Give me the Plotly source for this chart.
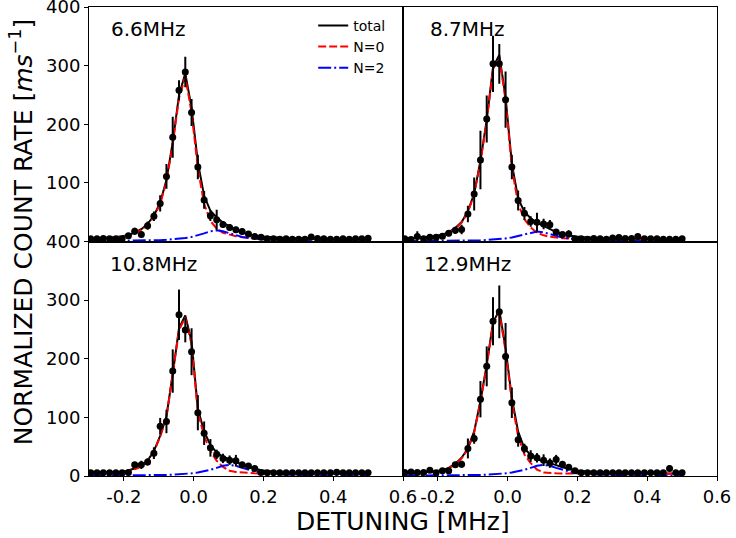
import plotly.graph_objects as go
from plotly.subplots import make_subplots

# detuning grid (MHz)
detuning = [-0.295, -0.277, -0.259, -0.241, -0.223, -0.205, -0.187, -0.169, -0.150, -0.132,
            -0.114, -0.096, -0.078, -0.060, -0.042, -0.024, -0.006, 0.012, 0.030, 0.048,
            0.066, 0.084, 0.103, 0.121, 0.139, 0.157, 0.175, 0.193, 0.211, 0.229,
            0.247, 0.265, 0.283, 0.301, 0.319, 0.337, 0.355, 0.373, 0.392, 0.410,
            0.428, 0.446, 0.464, 0.482, 0.500]

panel_labels = ["6.6MHz", "8.7MHz", "10.8MHz", "12.9MHz"]

# ---- 6.6 MHz ----
data_66 = [4.5, 4.5, 5, 4.5, 4.5, 4.5, 10, 17.6, 12, 27, 43, 65, 111, 178, 258, 289, 220, 127, 71, 44,
           37, 29, 24, 20, 17, 13, 8.5, 7.4, 4.5, 4.5, 4, 4.5, 4, 4, 4, 7.5, 5, 4.5, 4, 4,
           4.5, 4, 4.5, 4.5, 5.5]
err_66 = [2.5, 2.5, 2.5, 2.5, 2.5, 2.5, 4, 6, 5, 7, 8, 14, 21, 35, 17, 26, 23, 21, 15, 9,
          17, 6, 6, 5, 5, 4, 4, 3, 2.5, 2.5, 2.5, 2.5, 2.5, 2.5, 2.5, 3, 2.5, 2.5, 2.5, 2.5,
          2.5, 2.5, 2.5, 2.5, 2.5]
n0_66 = [4.3, 4.6, 5.2, 5.8, 6.7, 8.1, 10, 13.8, 19.6, 28.4, 42, 64, 102, 166, 245, 281, 220, 125, 64, 35,
         22, 15, 11.5, 9, 7.3, 6.2, 5.5, 5, 4.7, 4.5, 4.3, 4.2, 4.1, 4, 3.9, 3.9, 3.9, 3.8, 3.8, 3.8,
         3.8, 3.7, 3.7, 3.7, 3.7]
n2_66 = [0.5, 0.57, 0.63, 0.7, 0.78, 0.9, 1.0, 1.16, 1.35, 1.6, 1.9, 2.3, 2.8, 3.5, 4.5, 5.8, 7.8, 10.5, 13.9, 17.4,
         19, 17.4, 13.9, 10.5, 7.8, 5.8, 4.5, 3.5, 2.8, 2.3, 1.9, 1.6, 1.35, 1.16, 1.0, 0.9, 0.78, 0.7, 0.63, 0.57,
         0.5, 0.47, 0.43, 0.4, 0.37]
tot_66 = [4.8, 5.2, 5.8, 6.5, 7.5, 9.0, 11.0, 15.0, 21.0, 30.0, 43.9, 66.3, 104.8, 169.5, 249.5, 286.8, 227.8, 135.5, 77.9, 52.4,
          41.0, 32.4, 25.4, 19.5, 15.1, 12.0, 10.0, 8.5, 7.5, 6.8, 6.2, 5.8, 5.45, 5.16, 4.9, 4.8, 4.68, 4.5, 4.43, 4.37,
          4.3, 4.17, 4.13, 4.1, 4.07]

# ---- 8.7 MHz ----
data_87 = [4.5, 3.5, 8.5, 4.5, 7.4, 7.4, 9, 14, 19, 20.5, 47, 81, 139, 209, 303, 303, 242, 127, 70, 48,
           34, 33, 30, 28.5, 16, 12, 13, 4.5, 4.5, 4, 5, 4.5, 4, 6, 7, 5, 5, 8.5, 4.5, 4.5,
           4.5, 4, 4, 4, 4.5]
err_87 = [2.5, 2.5, 9, 2.5, 3, 3, 3, 5, 6, 8, 14, 28, 50, 40, 48, 34, 48, 21, 17, 11,
          9, 16, 9, 8, 5, 4, 6, 2.5, 2.5, 2.5, 2.5, 2.5, 2.5, 3, 3, 2.5, 2.5, 3, 2.5, 2.5,
          2.5, 2.5, 2.5, 2.5, 2.5]
n0_87 = [4.5, 5, 5.6, 6.3, 7.3, 8.7, 11, 15, 22, 32, 50, 80, 136, 205, 294, 314, 241, 126, 64, 38,
         24, 15, 10.5, 8, 6.5, 5.5, 5, 4.6, 4.4, 4.2, 4, 4, 3.9, 3.9, 3.9, 3.8, 3.8, 3.8, 3.8, 3.8,
         3.7, 3.7, 3.7, 3.7, 3.7]
n2_87 = [0.41, 0.46, 0.51, 0.56, 0.63, 0.7, 0.8, 0.9, 1.04, 1.2, 1.4, 1.7, 2.0, 2.5, 3.1, 4.0, 5.2, 6.9, 9.4, 12.5,
         15.6, 17, 15.6, 12.5, 9.4, 6.9, 5.2, 4.0, 3.1, 2.5, 2.0, 1.7, 1.4, 1.2, 1.04, 0.9, 0.8, 0.7, 0.63, 0.56,
         0.51, 0.46, 0.41, 0.37, 0.34]
tot_87 = [4.9, 5.5, 6.1, 6.9, 7.9, 9.4, 11.8, 15.9, 23.0, 33.2, 51.4, 81.7, 138.0, 207.5, 297.1, 318.0, 246.2, 132.9, 73.4, 50.5,
          39.6, 32.0, 26.1, 20.5, 15.9, 12.4, 10.2, 8.6, 7.5, 6.7, 6.0, 5.7, 5.3, 5.1, 4.9, 4.7, 4.6, 4.5, 4.4, 4.4,
          4.2, 4.2, 4.1, 4.1, 4.0]

# ---- 10.8 MHz ----
data_108 = [5.7, 5.7, 5.7, 5.7, 5.7, 5.7, 6, 19, 19, 24, 39, 85, 93, 179, 275, 249, 212, 108, 73, 48,
            37, 30, 27, 26, 19, 17, 13, 6, 5.7, 5.7, 5.7, 5.7, 5.7, 5.7, 5.7, 5.7, 5.7, 5.7, 5.7, 6.5,
            5.7, 5.7, 5.7, 5.7, 5.7]
err_108 = [2.5, 2.5, 2.5, 2.5, 2.5, 2.5, 3, 5, 7, 6, 10, 14, 20, 37, 43, 21, 40, 30, 20, 15,
           8, 8, 8, 10, 5, 4, 4, 3, 2.5, 2.5, 2.5, 2.5, 2.5, 2.5, 2.5, 2.5, 2.5, 2.5, 2.5, 2.5,
           2.5, 2.5, 2.5, 2.5, 2.5]
n0_108 = [4.3, 4.6, 5.0, 5.4, 6.0, 6.6, 8.5, 11.5, 16, 25, 41, 67, 100, 172, 249, 270.5, 224.5, 109, 68, 42.5,
          26, 15.6, 9, 7, 5.8, 5, 4.5, 4.2, 4.0, 3.9, 3.8, 3.8, 3.8, 3.8, 3.8, 3.8, 3.8, 3.8, 3.8, 3.8,
          3.8, 3.8, 3.8, 3.8, 3.8]
n2_108 = [0.42, 0.46, 0.51, 0.57, 0.63, 0.7, 0.78, 0.9, 1.0, 1.16, 1.35, 1.6, 1.9, 2.3, 2.8, 3.5, 4.5, 5.8, 7.8, 10.5,
          13.9, 17.4, 19, 17.4, 13.9, 10.5, 7.8, 5.8, 4.5, 3.5, 2.8, 2.3, 1.9, 1.6, 1.35, 1.16, 1.0, 0.9, 0.78, 0.7,
          0.63, 0.57, 0.51, 0.46, 0.42]
tot_108 = [4.7, 5.1, 5.5, 6.0, 6.6, 7.3, 9.3, 12.4, 17.0, 26.2, 42.4, 68.6, 101.9, 174.3, 251.8, 274.0, 229.0, 114.8, 75.8, 53.0,
           39.9, 33.0, 28.0, 24.4, 19.7, 15.5, 12.3, 10.0, 8.5, 7.4, 6.6, 6.1, 5.7, 5.4, 5.15, 4.96, 4.8, 4.7, 4.58, 4.5,
           4.43, 4.37, 4.31, 4.26, 4.22]

# ---- 12.9 MHz ----
data_129 = [6, 7, 6, 6, 10, 5.7, 9, 9, 19, 20, 47, 64, 131, 187, 264, 280, 204, 125, 62, 47,
            34, 31, 27, 22, 28, 20, 15, 9, 5.7, 5.7, 5.7, 5.7, 5.7, 5.7, 5.7, 5.7, 5.7, 5.7, 5.7, 5.7,
            5.7, 5.7, 13, 5.7, 5.7]
err_129 = [2.5, 2.5, 2.5, 2.5, 3, 4, 3, 3, 5, 6, 17, 9, 31, 34, 41, 45, 57, 26, 12, 8,
           10, 8, 10, 8, 8, 5, 4, 3, 2.5, 2.5, 2.5, 2.5, 2.5, 2.5, 2.5, 2.5, 2.5, 2.5, 2.5, 2.5,
           2.5, 2.5, 5, 2.5, 2.5]
n0_129 = [4.6, 5, 5.5, 6, 6.8, 7.8, 9.2, 13, 20, 30, 45.6, 74.4, 126, 187.7, 259, 279.5, 213.5, 127, 68, 36.5,
          22, 11, 6, 5, 4.6, 4.3, 4.1, 4.0, 3.9, 3.9, 3.9, 3.9, 3.9, 3.9, 3.9, 3.9, 3.9, 3.9, 3.9, 3.9,
          3.9, 3.9, 3.9, 3.9, 3.9]
n2_129 = [0.42, 0.46, 0.51, 0.57, 0.63, 0.7, 0.78, 0.9, 1.0, 1.16, 1.35, 1.6, 1.9, 2.3, 2.8, 3.5, 4.5, 5.8, 7.8, 10.5,
          13.9, 17.4, 19, 17.4, 13.9, 10.5, 7.8, 5.8, 4.5, 3.5, 2.8, 2.3, 1.9, 1.6, 1.35, 1.16, 1.0, 0.9, 0.78, 0.7,
          0.63, 0.57, 0.51, 0.46, 0.42]
tot_129 = [5.0, 5.5, 6.0, 6.6, 7.4, 8.5, 10.0, 13.9, 21.0, 31.2, 47.0, 76.0, 127.9, 190.0, 261.8, 283.0, 218.0, 132.8, 75.8, 47.0,
           35.9, 28.4, 25.0, 22.4, 18.5, 14.8, 11.9, 9.8, 8.4, 7.4, 6.7, 6.2, 5.8, 5.5, 5.25, 5.06, 4.9, 4.8, 4.68, 4.6,
           4.53, 4.47, 4.41, 4.36, 4.32]

x_ticks = [-0.2, 0.0, 0.2, 0.4, 0.6]
x_tick_labels = ["-0.2", "0.0", "0.2", "0.4", "0.6"]
y_ticks_top = [100, 200, 300, 400]
y_ticks_bottom = [0, 100, 200, 300, 400]

panels = [
    (1, 1, data_66, err_66, tot_66, n0_66, n2_66),
    (1, 2, data_87, err_87, tot_87, n0_87, n2_87),
    (2, 1, data_108, err_108, tot_108, n0_108, n2_108),
    (2, 2, data_129, err_129, tot_129, n0_129, n2_129),
]

FONT = "DejaVu Sans"
fig = make_subplots(rows=2, cols=2, horizontal_spacing=0, vertical_spacing=0)

for k, (r, c, d, e, tot, n0, n2) in enumerate(panels):
    first = (k == 0)
    fig.add_trace(go.Scatter(x=detuning, y=tot, mode="lines", name="total",
                             line=dict(color="black", width=2), showlegend=first), row=r, col=c)
    fig.add_trace(go.Scatter(x=detuning, y=n0, mode="lines", name="N=0",
                             line=dict(color="red", width=2, dash="8px,3px"), showlegend=first), row=r, col=c)
    fig.add_trace(go.Scatter(x=detuning, y=n2, mode="lines", name="N=2",
                             line=dict(color="blue", width=2, dash="13px,3px,2px,3px"), showlegend=first), row=r, col=c)
    fig.add_trace(go.Scatter(x=detuning, y=d, mode="markers", showlegend=False,
                             marker=dict(color="black", size=7),
                             error_y=dict(type="data", array=e, visible=True, color="black",
                                          thickness=2, width=0)), row=r, col=c)

axis_common = dict(showline=True, mirror=True, linecolor="black", linewidth=1,
                   showgrid=False, zeroline=False, automargin=False,
                   ticklabeloverflow="allow")

for r in (1, 2):
    for c in (1, 2):
        bottom = (r == 2)
        left = (c == 1)
        fig.update_xaxes(range=[-0.3, 0.6], tickvals=x_ticks, ticktext=x_tick_labels,
                         ticks="outside" if bottom else "", ticklen=4, tickcolor="black",
                         showticklabels=bottom, tickfont=dict(family=FONT, size=18, color="black"),
                         row=r, col=c, **axis_common)
        fig.update_yaxes(range=[0, 400], tickvals=y_ticks_bottom if bottom else y_ticks_top,
                         ticks="outside" if left else "", ticklen=4, tickcolor="black",
                         showticklabels=left, tickfont=dict(family=FONT, size=18, color="black"),
                         row=r, col=c, **axis_common)

label_pos = [("x", "y", -0.242), ("x2", "y2", -0.228), ("x3", "y3", -0.245), ("x4", "y4", -0.245)]
annotations = []
for (xr, yr, xp), lab in zip(label_pos, panel_labels):
    annotations.append(dict(x=xp, y=362, xref=xr, yref=yr, text=lab, showarrow=False,
                            xanchor="left", yanchor="middle",
                            font=dict(family=FONT, size=20, color="black")))

annotations.append(dict(x=0.5, y=-0.096, xref="paper", yref="paper", text="DETUNING [MHz]",
                        showarrow=False, xanchor="center", yanchor="middle",
                        font=dict(family=FONT, size=25, color="black")))
annotations.append(dict(x=-0.108, y=0.52, xref="paper", yref="paper",
                        text="NORMALIZED COUNT RATE [<i>ms</i><sup>\u22121</sup>]",
                        showarrow=False, textangle=-90, xanchor="center", yanchor="middle",
                        font=dict(family=FONT, size=25, color="black")))

fig.update_layout(
    width=736, height=538,
    margin=dict(l=89, r=19, t=7, b=62),
    paper_bgcolor="white", plot_bgcolor="white",
    font=dict(family=FONT, color="black"),
    annotations=annotations,
    legend=dict(x=0.357, y=0.994, xanchor="left", yanchor="top",
                bgcolor="rgba(0,0,0,0)", borderwidth=0,
                font=dict(family=FONT, size=14, color="black"),
                tracegroupgap=0),
)

fig.write_html("out.html", config={"displayModeBar": False},
               post_script="document.body.style.margin='0';document.body.style.padding='0';"
                           "document.body.style.overflow='hidden';")
